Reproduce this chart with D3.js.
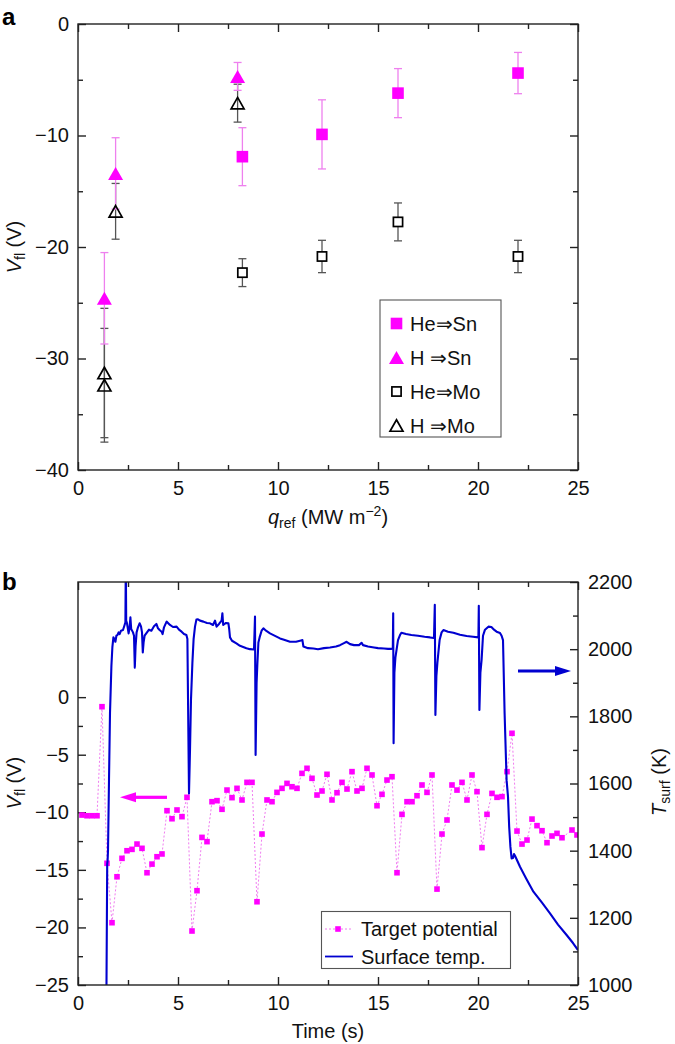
<!DOCTYPE html>
<html><head><meta charset="utf-8">
<script src="https://cdn.jsdelivr.net/npm/d3@7"></script>
<style>
body{margin:0;background:#fff;}
svg{display:block;font-family:"Liberation Sans",Arial,Helvetica,sans-serif;}
</style></head><body>
<svg id="c" width="675" height="1044"></svg>
<script>
// ---------- Panel a data ----------
const heSnQ=[8.22,12.2,16,22], heSnV=[-11.9,-9.9,-6.2,-4.4], heSnE=[2.6,3.1,2.2,1.85];
const hSnQ=[1.32,1.88,7.98], hSnV=[-24.6,-13.4,-4.7], hSnE=[4.1,3.2,1.25];
const heMoQ=[8.22,12.2,16,22], heMoV=[-22.3,-20.85,-17.75,-20.85], heMoE=[1.25,1.45,1.7,1.45];
const hMoQ=[1.32,1.32,1.88,7.98], hMoV=[-31.3,-32.4,-16.8,-7.1], hMoE=[5.8,5.1,2.5,1.7];
const legendA=["He\u21D2Sn","H \u21D2Sn","He\u21D2Mo","H \u21D2Mo"];
const xTicksA=[0,5,10,15,20,25], yTicksA=[-40,-30,-20,-10,0];

// ---------- Panel b data ----------
const potT=[0.2,0.45,0.7,0.95,1.2,1.45,1.7,1.95,2.2,2.45,2.7,2.95,3.2,3.45,3.7,3.95,4.2,4.45,4.7,4.95,5.2,5.45,5.7,5.95,6.2,6.45,6.7,6.95,7.2,7.45,7.7,7.95,8.2,8.45,8.7,8.95,9.2,9.45,9.7,9.95,10.2,10.45,10.7,10.95,11.2,11.45,11.7,11.95,12.2,12.45,12.7,12.95,13.2,13.45,13.7,13.95,14.2,14.45,14.7,14.95,15.2,15.45,15.7,15.95,16.2,16.45,16.7,16.95,17.2,17.45,17.7,17.95,18.2,18.45,18.7,18.95,19.2,19.45,19.7,19.95,20.2,20.45,20.7,20.95,21.2,21.45,21.7,21.95,22.2,22.45,22.7,22.95,23.2,23.45,23.7,23.95,24.2,24.7,24.95];
const potV=[-10.24,-10.3,-10.3,-10.3,-0.83,-14.43,-19.59,-15.6,-14.0,-13.34,-13.22,-12.76,-13.13,-15.25,-14.5,-13.86,-13.62,-9.86,-10.56,-9.8,-10.38,-8.7,-20.31,-16.81,-12.18,-12.55,-9.08,-8.99,-9.74,-8.07,-8.73,-7.92,-8.93,-7.4,-7.4,-17.77,-11.89,-8.93,-9.08,-8.27,-7.92,-7.49,-7.78,-7.92,-6.62,-6.18,-7.05,-8.5,-8.15,-6.7,-8.93,-8.3,-7.4,-7.98,-6.47,-8.15,-7.92,-6.18,-6.76,-9.43,-8.44,-7.2,-6.91,-15.25,-10.18,-9.08,-9.08,-8.56,-7.63,-8.27,-6.76,-16.67,-11.89,-10.67,-7.63,-8.07,-7.4,-8.93,-6.76,-8.21,-13.07,-10.18,-8.36,-8.7,-8.64,-6.47,-3.14,-11.63,-12.76,-12.41,-10.59,-11.16,-11.6,-12.64,-12.06,-11.83,-12.21,-11.54,-11.97];
const tempT=[1.42,1.46,1.48,1.50,1.55,1.60,1.67,1.72,1.77,1.82,1.87,1.92,1.97,2.03,2.08,2.15,2.25,2.33,2.37,2.39,2.41,2.45,2.53,2.58,2.62,2.66,2.75,2.80,2.84,2.88,2.93,3.0,3.08,3.15,3.20,3.24,3.28,3.33,3.45,3.55,3.67,3.8,3.92,4.0,4.08,4.18,4.23,4.3,4.43,4.5,4.6,4.75,4.93,5.05,5.18,5.3,5.42,5.47,5.51,5.55,5.6,5.65,5.72,5.78,5.85,5.92,6.0,6.1,6.27,6.45,6.6,6.75,6.85,6.93,7.05,7.18,7.22,7.26,7.4,7.52,7.56,7.6,7.7,7.92,8.1,8.42,8.6,8.8,8.85,8.88,8.93,8.97,9.02,9.08,9.18,9.27,9.4,9.6,9.9,10.1,10.3,10.6,10.9,11.15,11.22,11.27,11.5,11.77,12.0,12.3,12.6,12.9,13.1,13.3,13.43,13.6,13.8,14.05,14.18,14.25,14.5,14.8,15.0,15.3,15.5,15.68,15.74,15.76,15.78,15.82,15.87,16.0,16.1,16.17,16.4,16.67,17.0,17.33,17.6,17.8,17.84,17.87,17.92,17.97,18.08,18.18,18.27,18.5,18.77,19.1,19.43,19.75,20.02,20.04,20.07,20.12,20.18,20.25,20.35,20.52,20.67,20.8,20.93,21.1,21.18,21.25,21.33,21.43,21.5,21.56,21.62,21.68,21.75,21.8,21.85,22.1,22.4,22.77,23.2,23.6,24.0,24.43,24.75,25.0];
const tempK=[960,1360,1370,1400,1610,1810,1950,2007,2035,2030,2022,2040,2042,2050,2045,2055,2057,2072,2080,2260,2085,2077,2047,2065,2095,2060,2050,2040,1945,2010,2050,2065,2077,2068,2050,1990,2020,2040,2050,2058,2055,2068,2075,2062,2057,2052,2045,2065,2082,2078,2072,2066,2067,2058,2052,2045,2042,2030,1800,1570,1700,1850,1960,2030,2067,2088,2089,2085,2082,2078,2077,2072,2085,2067,2075,2085,2107,2072,2078,2077,2060,2035,2025,2017,2010,2003,2000,1999,2097,1685,1900,1958,2020,2035,2055,2062,2055,2047,2038,2032,2028,2022,2022,2026,2027,2008,2003,2002,2000,2003,2005,2008,2012,2018,2022,2015,2012,2012,2019,2012,2008,2005,2003,2002,2001,2001,2002,2107,1720,1930,1975,2027,2042,2049,2045,2042,2040,2037,2035,2033,2132,1804,1920,1960,2027,2050,2057,2052,2049,2043,2039,2037,2035,2129,1819,1930,1968,2040,2058,2067,2066,2058,2052,2048,2040,2027,1810,1610,1561,1470,1412,1377,1378,1390,1385,1352,1318,1278,1245,1213,1180,1149,1125,1104];
const xTicksB=[0,5,10,15,20,25], yTicksBL=[-25,-20,-15,-10,-5,0], yTicksBR=[1000,1200,1400,1600,1800,2000,2200];
const legendB=["Target potential","Surface temp."];

const svg=d3.select("#c");
const FS=20, FR="#222";
const pink="#ff00ff", pinkErr="#ee80ee", blue="#0000d0";

function frame(g,x0,y0,x1,y1){
  g.append("rect").attr("x",x0).attr("y",y0).attr("width",x1-x0).attr("height",y1-y0)
   .attr("fill","none").attr("stroke",FR).attr("stroke-width",1.4);
}
function styleAxis(sel,labels){
  sel.select(".domain").remove();
  sel.selectAll("line").attr("stroke",FR).attr("stroke-width",1.4);
  sel.selectAll("text").attr("font-size",FS).attr("fill","#111").attr("font-family","Liberation Sans, Arial, sans-serif");
  if(!labels) sel.selectAll("text").remove();
}
function minors(arr){const m=[];for(let i=0;i<arr.length-1;i++)m.push((arr[i]+arr[i+1])/2);return m;}

// ================= Panel a =================
const xA=d3.scaleLinear([0,25],[78,578]);
const yA=d3.scaleLinear([-40,0],[470,24]);
const gA=svg.append("g");
function axesA(){
  const bx=gA.append("g").attr("transform","translate(0,470)").call(d3.axisBottom(xA).tickValues(xTicksA).tickSize(-8).tickPadding(11).tickFormat(d3.format("d")));
  styleAxis(bx,true);
  styleAxis(gA.append("g").attr("transform","translate(0,470)").call(d3.axisBottom(xA).tickValues(minors(xTicksA)).tickSize(-5)),false);
  styleAxis(gA.append("g").attr("transform","translate(0,24)").call(d3.axisTop(xA).tickValues(xTicksA).tickSize(-8)),false);
  styleAxis(gA.append("g").attr("transform","translate(0,24)").call(d3.axisTop(xA).tickValues(minors(xTicksA)).tickSize(-5)),false);
  const ly=gA.append("g").attr("transform","translate(78,0)").call(d3.axisLeft(yA).tickValues(yTicksA).tickSize(-8).tickPadding(9));
  styleAxis(ly,true);
  styleAxis(gA.append("g").attr("transform","translate(78,0)").call(d3.axisLeft(yA).tickValues(minors(yTicksA)).tickSize(-5)),false);
  styleAxis(gA.append("g").attr("transform","translate(578,0)").call(d3.axisRight(yA).tickValues(yTicksA).tickSize(-8)),false);
  styleAxis(gA.append("g").attr("transform","translate(578,0)").call(d3.axisRight(yA).tickValues(minors(yTicksA)).tickSize(-5)),false);
  frame(gA,78,24,578,470);
}
axesA();

function errBars(g,Q,V,E,x,y,color){
  Q.forEach((q,i)=>{
    const cx=x(q), t=y(V[i]+E[i]), b=y(V[i]-E[i]);
    g.append("line").attr("x1",cx).attr("x2",cx).attr("y1",t).attr("y2",b).attr("stroke",color).attr("stroke-width",1.3);
    [t,b].forEach(yy=>g.append("line").attr("x1",cx-4).attr("x2",cx+4).attr("y1",yy).attr("y2",yy).attr("stroke",color).attr("stroke-width",1.3));
  });
}
const triPath=(w,h)=>`M0,${-h/2}L${w/2},${h/2}L${-w/2},${h/2}Z`;
function drawSym(g,kind,cx,cy){
  if(kind===0) g.append("rect").attr("x",cx-5.8).attr("y",cy-5.8).attr("width",11.6).attr("height",11.6).attr("fill",pink);
  else if(kind===1) g.append("path").attr("d",triPath(15,13)).attr("transform",`translate(${cx},${cy})`).attr("fill",pink);
  else if(kind===2) g.append("rect").attr("x",cx-4.6).attr("y",cy-4.6).attr("width",9.2).attr("height",9.2).attr("fill","#fff").attr("stroke","#000").attr("stroke-width",1.7);
  else g.append("path").attr("d",triPath(13,11.5)).attr("transform",`translate(${cx},${cy})`).attr("fill","none").attr("stroke","#000").attr("stroke-width",1.7).attr("stroke-linejoin","miter");
}
const ga=gA.append("g");
errBars(ga,heMoQ,heMoV,heMoE,xA,yA,"#555");
errBars(ga,hMoQ,hMoV,hMoE,xA,yA,"#555");
errBars(ga,heSnQ,heSnV,heSnE,xA,yA,pinkErr);
errBars(ga,hSnQ,hSnV,hSnE,xA,yA,pinkErr);
heMoQ.forEach((q,i)=>drawSym(ga,2,xA(q),yA(heMoV[i])));
hMoQ.forEach((q,i)=>drawSym(ga,3,xA(q),yA(hMoV[i])));
heSnQ.forEach((q,i)=>drawSym(ga,0,xA(q),yA(heSnV[i])));
hSnQ.forEach((q,i)=>drawSym(ga,1,xA(q),yA(hSnV[i])));

// legend a
const lgA=gA.append("g");
lgA.append("rect").attr("x",380).attr("y",300).attr("width",121).attr("height",137).attr("fill","#fff").attr("stroke","#555").attr("stroke-width",1.1);
legendA.forEach((t,i)=>{
  const cy=323.5+i*34;
  drawSym(lgA,i,396.5,cy);
  lgA.append("text").attr("x",410).attr("y",cy).attr("dy","0.36em").attr("font-size",FS).attr("fill","#111").text(t);
});

// titles a
const ty=svg.append("text").attr("transform","translate(21,247) rotate(-90)").attr("text-anchor","middle").attr("font-size",FS).attr("fill","#111");
ty.append("tspan").attr("font-style","italic").text("V");
ty.append("tspan").attr("font-size",14).attr("dy",4).text("fl");
ty.append("tspan").attr("dy",-4).text(" (V)");
const tx=svg.append("text").attr("x",328).attr("y",524).attr("text-anchor","middle").attr("font-size",FS).attr("fill","#111");
tx.append("tspan").attr("font-style","italic").text("q");
tx.append("tspan").attr("font-size",14).attr("dy",4).text("ref");
tx.append("tspan").attr("dy",-4).text(" (MW m");
tx.append("tspan").attr("font-size",14).attr("dy",-8).text("\u22122");
tx.append("tspan").attr("dy",8).text(")");
svg.append("text").attr("x",2).attr("y",25).attr("font-size",24).attr("font-weight","bold").text("a");

// ================= Panel b =================
const xB=d3.scaleLinear([0,25],[78,578]);
const yL=d3.scaleLinear([-25,10],[985,582]);
const yR=d3.scaleLinear([1000,2200],[985,582]);
const gB=svg.append("g");
const bxB=gB.append("g").attr("transform","translate(0,985)").call(d3.axisBottom(xB).tickValues(xTicksB).tickSize(-8).tickPadding(11).tickFormat(d3.format("d")));
styleAxis(bxB,true);
styleAxis(gB.append("g").attr("transform","translate(0,985)").call(d3.axisBottom(xB).tickValues(minors(xTicksB)).tickSize(-5)),false);
styleAxis(gB.append("g").attr("transform","translate(0,582)").call(d3.axisTop(xB).tickValues(xTicksB).tickSize(-8)),false);
styleAxis(gB.append("g").attr("transform","translate(0,582)").call(d3.axisTop(xB).tickValues(minors(xTicksB)).tickSize(-5)),false);
styleAxis(gB.append("g").attr("transform","translate(78,0)").call(d3.axisLeft(yL).tickValues(yTicksBL).tickSize(-8).tickPadding(9).tickFormat(d3.format("d"))),true);
styleAxis(gB.append("g").attr("transform","translate(78,0)").call(d3.axisLeft(yL).tickValues(minors(yTicksBL)).tickSize(-5)),false);
styleAxis(gB.append("g").attr("transform","translate(578,0)").call(d3.axisRight(yR).tickValues(yTicksBR).tickSize(-8).tickPadding(10).tickFormat(d3.format("d"))),true);
styleAxis(gB.append("g").attr("transform","translate(578,0)").call(d3.axisRight(yR).tickValues(minors(yTicksBR)).tickSize(-5)),false);

svg.append("clipPath").attr("id","clipB").append("rect").attr("x",78).attr("y",582).attr("width",500).attr("height",403);
const plotB=gB.append("g").attr("clip-path","url(#clipB)");
const potData=potT.map((t,i)=>[t,potV[i]]);
const tempData=tempT.map((t,i)=>[t,tempK[i]]);
plotB.append("path").datum(potData).attr("d",d3.line().x(d=>xB(d[0])).y(d=>yL(d[1])))
  .attr("fill","none").attr("stroke","#f07cf0").attr("stroke-width",1).attr("stroke-dasharray","2,2");
plotB.selectAll("rect.pt").data(potData).join("rect").attr("class","pt")
  .attr("x",d=>xB(d[0])-2.8).attr("y",d=>yL(d[1])-2.8).attr("width",5.6).attr("height",5.6).attr("fill",pink);
plotB.append("path").datum(tempData).attr("d",d3.line().x(d=>xB(d[0])).y(d=>yR(d[1])))
  .attr("fill","none").attr("stroke",blue).attr("stroke-width",2.1).attr("stroke-linejoin","round");
frame(gB,78,582,578,985);

// arrows
function arrow(x1,x2,y,color){
  const dir=Math.sign(x2-x1), hl=16, hw=5;
  gB.append("line").attr("x1",x1).attr("x2",x2-dir*hl+dir*1).attr("y1",y).attr("y2",y).attr("stroke",color).attr("stroke-width",3.2);
  gB.append("path").attr("d",`M${x2},${y}L${x2-dir*hl},${y-hw}L${x2-dir*hl},${y+hw}Z`).attr("fill",color);
}
arrow(xB(4.45),xB(2.1),yL(-8.7),pink);
arrow(xB(22),xB(24.65),yR(1935),blue);

// legend b
const lgB=gB.append("g");
lgB.append("rect").attr("x",321.5).attr("y",911.5).attr("width",189).attr("height",57).attr("fill","#fff").attr("stroke","#555").attr("stroke-width",1.1);
lgB.append("line").attr("x1",325).attr("x2",353).attr("y1",929).attr("y2",929).attr("stroke","#f07cf0").attr("stroke-width",1).attr("stroke-dasharray","2,2");
lgB.append("rect").attr("x",338-2.8).attr("y",929-2.8).attr("width",5.6).attr("height",5.6).attr("fill",pink);
lgB.append("line").attr("x1",325).attr("x2",353).attr("y1",956.5).attr("y2",956.5).attr("stroke",blue).attr("stroke-width",1.8);
legendB.forEach((t,i)=>lgB.append("text").attr("x",361).attr("y",929+i*27.5).attr("dy","0.36em").attr("font-size",FS).attr("fill","#111").text(t));

// titles b
svg.append("text").attr("x",328).attr("y",1038).attr("text-anchor","middle").attr("font-size",FS).attr("fill","#111").text("Time (s)");
const tyb=svg.append("text").attr("transform","translate(21,783) rotate(-90)").attr("text-anchor","middle").attr("font-size",FS).attr("fill","#111");
tyb.append("tspan").attr("font-style","italic").text("V");
tyb.append("tspan").attr("font-size",14).attr("dy",4).text("fl");
tyb.append("tspan").attr("dy",-4).text(" (V)");
const tyr=svg.append("text").attr("transform","translate(666,782) rotate(-90)").attr("text-anchor","middle").attr("font-size",FS).attr("fill","#111");
tyr.append("tspan").attr("font-style","italic").text("T");
tyr.append("tspan").attr("font-size",14).attr("dy",4).text("surf");
tyr.append("tspan").attr("dy",-4).text(" (K)");
svg.append("text").attr("x",2).attr("y",590).attr("font-size",24).attr("font-weight","bold").text("b");
</script>
</body></html>
